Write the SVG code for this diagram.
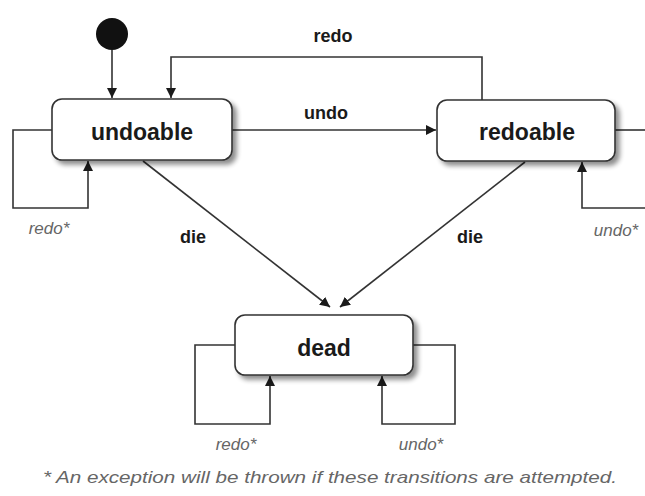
<svg xmlns="http://www.w3.org/2000/svg" width="645" height="496" viewBox="0 0 645 496">
<style>
.box{fill:#fff;stroke:#333;stroke-width:1.6}
.ln{fill:none;stroke:#333;stroke-width:1.6}
.name{font-family:"Liberation Sans",Arial,sans-serif;font-weight:bold;font-size:23px;fill:#1a1a1a;text-anchor:middle}
.lbl{font-family:"Liberation Sans",Arial,sans-serif;font-weight:bold;font-size:18px;fill:#1a1a1a;text-anchor:middle}
.it{font-family:"Liberation Sans",Arial,sans-serif;font-style:italic;font-size:17px;fill:#666;text-anchor:middle}
</style>
<defs>
<marker id="ah" viewBox="0 0 10 10" refX="10" refY="5" markerWidth="10" markerHeight="10" markerUnits="userSpaceOnUse" orient="auto">
<path d="M0,0 L10,5 L0,10 z" fill="#1a1a1a"/>
</marker>
<filter id="sh" x="-10%" y="-20%" width="130%" height="160%">
<feGaussianBlur in="SourceAlpha" stdDeviation="2.5"/>
<feOffset dx="4" dy="4" result="b"/>
<feComponentTransfer><feFuncA type="linear" slope="0.45"/></feComponentTransfer>
<feMerge><feMergeNode/><feMergeNode in="SourceGraphic"/></feMerge>
</filter>
</defs>
<rect width="645" height="496" fill="#fff"/>
<g id="connectors">
<path class="ln" d="M112,50 L112,98" marker-end="url(#ah)"/>
<path class="ln" d="M482,100 L482,57 L171,57 L171,98" marker-end="url(#ah)"/>
<path class="ln" d="M232,130 L436,130" marker-end="url(#ah)"/>
<path class="ln" d="M615,130 L645,130"/>
<path class="ln" d="M645,208 L582,208 L582,162" marker-end="url(#ah)"/>
<path class="ln" d="M52,130 L13,130 L13,208 L88,208 L88,161" marker-end="url(#ah)"/>
<path class="ln" d="M143,161 L330,307" marker-end="url(#ah)"/>
<path class="ln" d="M525,162 L340,307" marker-end="url(#ah)"/>
<path class="ln" d="M235,345 L195,345 L195,424 L270,424 L270,376" marker-end="url(#ah)"/>
<path class="ln" d="M413,345 L455,345 L455,424 L382,424 L382,376" marker-end="url(#ah)"/>
<text class="lbl" x="333" y="42">redo</text>
<text class="lbl" x="326" y="119">undo</text>
<text class="lbl" x="193" y="243">die</text>
<text class="lbl" x="470" y="243">die</text>
<text class="it" x="49" y="234">redo*</text>
<text class="it" x="616" y="236">undo*</text>
<text class="it" x="236" y="450">redo*</text>
<text class="it" x="421" y="450">undo*</text>
</g>
<g id="start"><circle cx="112" cy="34" r="16" fill="#111"/></g>
<g id="undoable"><rect class="box" x="52" y="99" width="180" height="61" rx="10" filter="url(#sh)"/><text class="name" x="142" y="140">undoable</text></g>
<g id="redoable"><rect class="box" x="437" y="100" width="178" height="61" rx="10" filter="url(#sh)"/><text class="name" x="527" y="140">redoable</text></g>
<g id="dead"><rect class="box" x="235" y="315" width="178" height="60" rx="10" filter="url(#sh)"/><text class="name" x="324" y="356">dead</text></g>
<text class="it" x="330" y="483" font-size="18" textLength="574" lengthAdjust="spacingAndGlyphs">* An exception will be thrown if these transitions are attempted.</text>
</svg>
